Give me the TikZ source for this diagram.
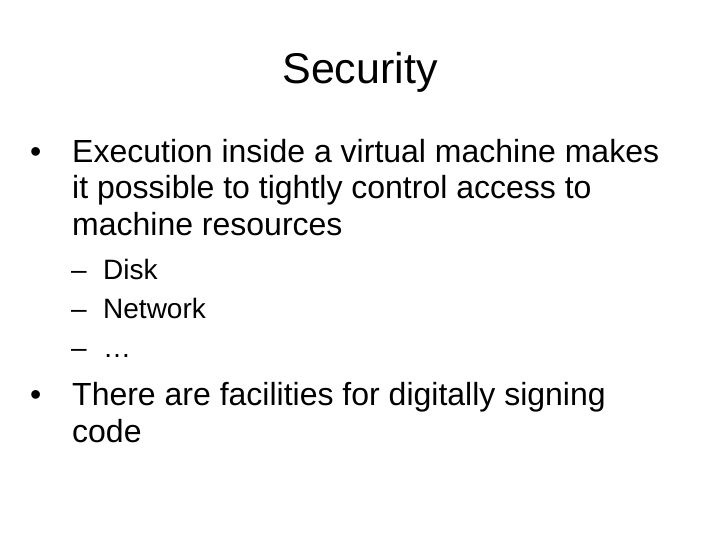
\documentclass[tikz,border=0pt]{standalone}
\usepackage{fontspec}
\setmainfont{Liberation Sans}
\begin{document}
\begin{tikzpicture}[x=1pt,y=-1pt,
  tx/.style={anchor=base west,inner sep=0pt,font=\fontsize{32}{34}\selectfont},
  sx/.style={anchor=base west,inner sep=0pt,font=\fontsize{28}{30}\selectfont}]
\useasboundingbox[fill=white] (0,0) rectangle (720,540);
\node[anchor=base,inner sep=0pt,font=\fontsize{43}{46}\selectfont] (title) at (360,84) {Security};
\node[tx] (b1) at (30,163) {•};
\node[tx] (l1) at (72,163) {Execution inside a virtual machine makes};
\node[tx] (l2) at (72,199) {it possible to tightly control access to};
\node[tx] (l3) at (72,236) {machine resources};
\node[sx] (d1) at (71,279) {–};
\node[sx] (s1) at (103,279) {Disk};
\node[sx] (d2) at (71,318) {–};
\node[sx] (s2) at (103,318) {Network};
\node[sx] (d3) at (71,357) {–};
\node[sx] (s3) at (103,357) {…};
\node[tx] (b2) at (30,405) {•};
\node[tx] (m1) at (72,405) {There are facilities for digitally signing};
\node[tx] (m2) at (72,442) {code};
\end{tikzpicture}
\end{document}
